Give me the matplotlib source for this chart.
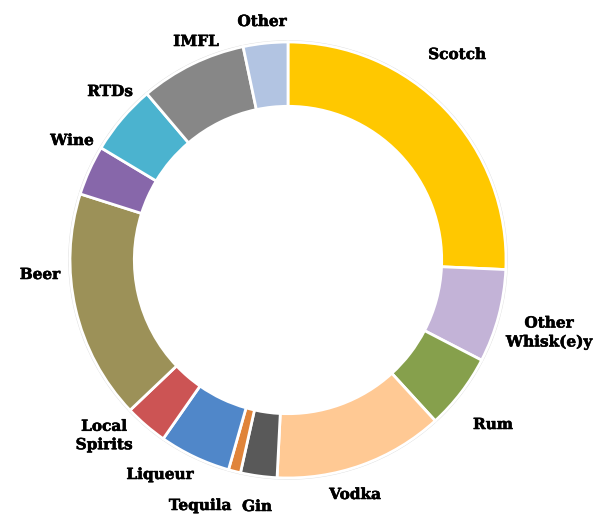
import matplotlib.pyplot as plt
import matplotlib.patheffects as pe

categories = ["Scotch", "Other\nWhisk(e)y", "Rum", "Vodka", "Gin", "Tequila", "Liqueur",
              "Local\nSpirits", "Beer", "Wine", "RTDs", "IMFL", "Other"]
shares = [25.7, 6.9, 5.6, 12.6, 2.7, 0.9, 5.3, 3.2, 17.0, 3.7, 5.2, 7.9, 3.3]
colors = ["#FFC800", "#C3B3D7", "#86A04C", "#FFC994", "#595959", "#E0843A", "#5087C9",
          "#CC5454", "#9C9158", "#8767AA", "#4BB3CF", "#878787", "#B2C4E2"]

W, H = 594, 518
cx, cy, R = 288, 260, 218


def px(x, y):
    return (x - cx) / R, (cy - y) / R


fig = plt.figure(figsize=(W / 100, H / 100), dpi=100)
ax = fig.add_axes([0, 0, 1, 1])

# faint shadow ring
ax.pie([1], radius=1.008, colors=["#DDDDDD"], startangle=90,
       wedgeprops=dict(width=0.30, edgecolor="none"))
ax.pie(shares, colors=colors, startangle=90, counterclock=False, radius=1.0,
       wedgeprops=dict(width=0.295, edgecolor="white", linewidth=2))

ax.set_xlim(-cx / R, (W - cx) / R)
ax.set_ylim(-(H - cy) / R, cy / R)
ax.set_aspect("equal")
ax.axis("off")

label_pos = [(457, 55), (549, 333), (493, 425), (355, 495), (257, 507), (200, 506),
             (160, 475), (104, 436), (40, 275), (72, 141), (110, 92), (196, 42), (262, 22)]
for name, (x, y) in zip(categories, label_pos):
    tx, ty = px(x, y)
    ax.text(tx, ty, name, ha="center", va="center", fontsize=11, fontweight="bold",
            family="DejaVu Serif", linespacing=1.4,
            path_effects=[pe.withStroke(linewidth=0.4, foreground="black")])

fig.savefig("out.png", dpi=100)
